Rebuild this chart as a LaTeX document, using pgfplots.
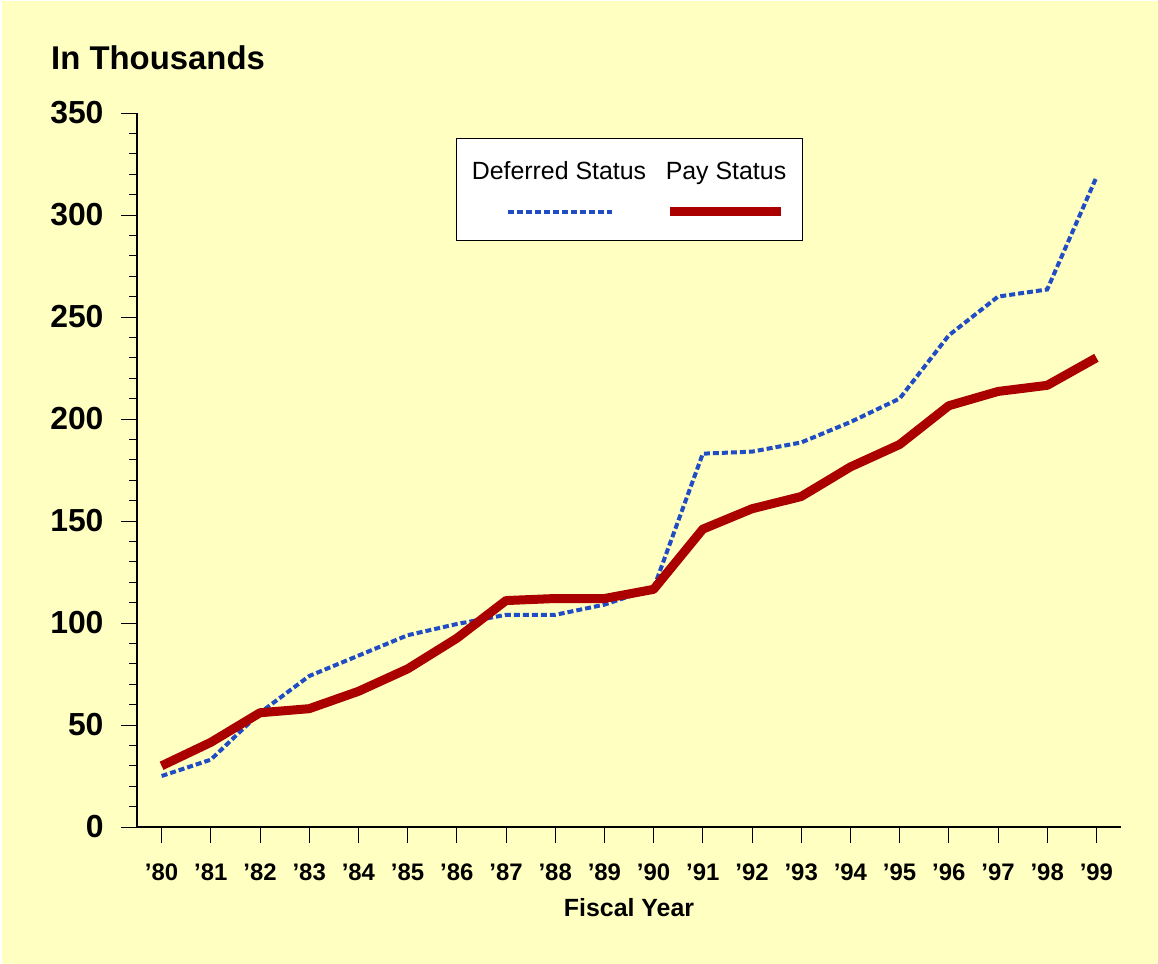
\documentclass[border=0pt]{standalone}
\usepackage{fontspec}
\setmainfont{Liberation Sans}
\usepackage{pgfplots}
\pgfplotsset{compat=1.18}
\definecolor{bg}{RGB}{255,255,194}
\definecolor{defblue}{RGB}{32,76,196}
\definecolor{payred}{RGB}{170,0,0}
\pgfplotstableread{
x def pay
0 25 30
1 33 41.5
2 56 56
3 74 58
4 84 66.5
5 94 77.5
6 99.5 92.5
7 104 111
8 104 112
9 109 112
10 117 116.5
11 183 146
12 184 156
13 188.5 162
14 198.5 176.5
15 210 187.5
16 241 206.5
17 260 213.5
18 263.5 216.5
19 318.5 230
}\datatable
\begin{document}
\begin{tikzpicture}
\useasboundingbox (0,0) rectangle (1158bp,964bp);
\fill[white] (0,0) rectangle (1158bp,964bp);
\fill[bg] (2bp,0) rectangle (1158bp,963bp);
\begin{axis}[
  at={(137bp,137bp)}, anchor=south west,
  scale only axis, width=984bp, height=714bp,
  xmin=-0.5, xmax=19.5, ymin=0, ymax=350,
  axis x line*=bottom, axis y line*=left,
  axis line style={line width=1.2bp, -},
  tick align=outside,
  major tick length=16bp, minor tick length=8bp,
  tick style={line width=0.9bp, black},
  xtick={0,...,19},
  xticklabels={’80,’81,’82,’83,’84,’85,’86,’87,’88,’89,’90,’91,’92,’93,’94,’95,’96,’97,’98,’99},
  ytick={0,50,...,350},
  minor ytick={10,20,30,40,60,70,80,90,110,120,130,140,160,170,180,190,210,220,230,240,260,270,280,290,310,320,330,340},
  /pgf/number format/assume math mode=true,
  yticklabel style={font=\fontsize{32}{36}\selectfont\bfseries, xshift=-14bp},
  xticklabel style={font=\fontsize{24}{28}\selectfont\bfseries, yshift=-17bp},
  clip=false,
]
\addplot[defblue, line width=4bp, dash pattern=on 6bp off 3bp] table[x=x,y=def] {\datatable};
\addplot[payred, line width=9bp, line join=round] table[x=x,y=pay] {\datatable};
\end{axis}
\node[anchor=base west, font=\fontsize{33}{38}\selectfont\bfseries, inner sep=0] at (51bp,894bp) {In Thousands};
\node[anchor=base, font=\fontsize{25}{30}\selectfont\bfseries, inner sep=0] at (629bp,47bp) {Fiscal Year};
\draw[fill=white, line width=1bp] (456bp,723bp) rectangle (802bp,825bp);
\node[anchor=base, font=\fontsize{25}{30}\selectfont, inner sep=0] at (559bp,784bp) {Deferred Status};
\node[anchor=base, font=\fontsize{25}{30}\selectfont, inner sep=0] at (726bp,784bp) {Pay Status};
\draw[defblue, line width=4bp, dash pattern=on 6bp off 3bp] (508bp,752bp) -- (612bp,752bp);
\draw[payred, line width=9bp] (670bp,752bp) -- (781bp,752bp);
\end{tikzpicture}
\end{document}
